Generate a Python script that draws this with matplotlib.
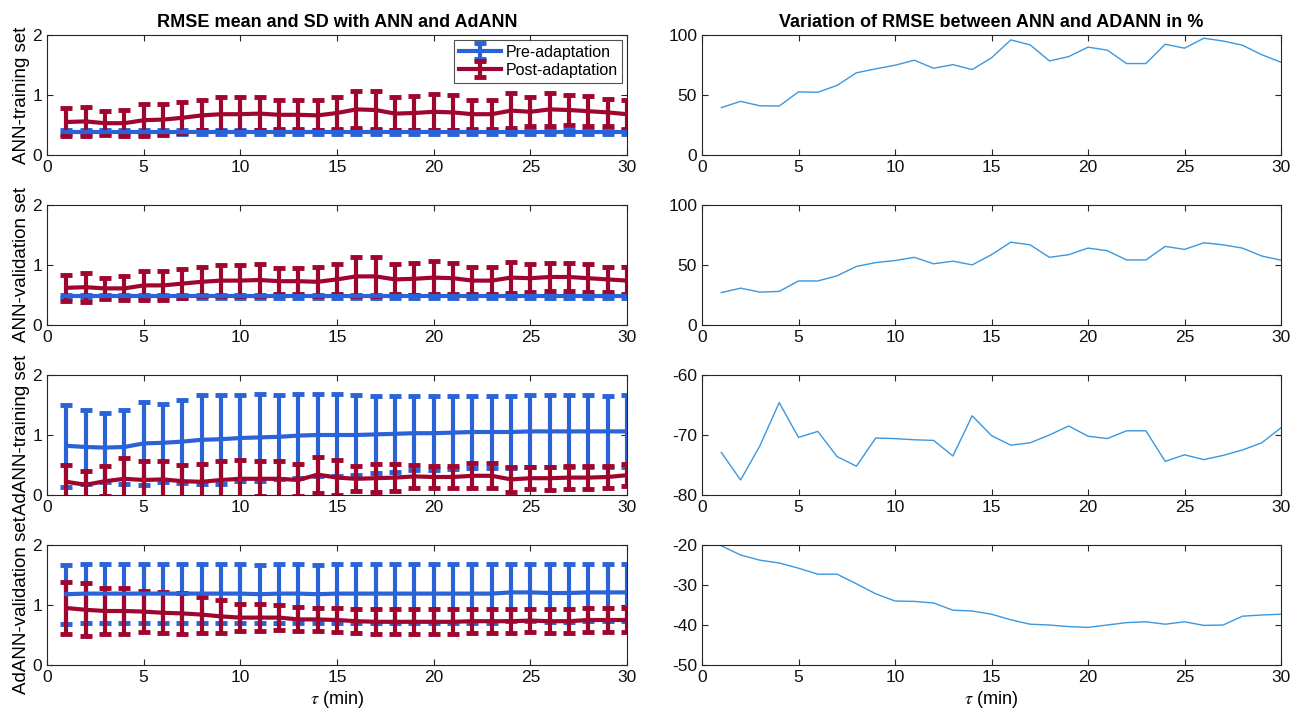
import matplotlib
matplotlib.use("Agg")
import matplotlib.pyplot as plt
import numpy as np

plt.rcParams["font.family"] = ["Liberation Sans", "DejaVu Sans"]
plt.rcParams["mathtext.fontset"] = "stix"
plt.rcParams["axes.unicode_minus"] = False

# ── Data ────────────────────────────────────────────────────────────────────
tau = list(range(1, 31))

# ANN-training set
pre_ann_train_mean = [0.38] * 30
pre_ann_train_sd = [0.03] * 30
post_ann_train_mean = [0.55, 0.56, 0.53, 0.53, 0.58, 0.59, 0.62, 0.66, 0.68, 0.68,
                       0.69, 0.67, 0.67, 0.66, 0.70, 0.76, 0.75, 0.69, 0.70, 0.72,
                       0.71, 0.68, 0.68, 0.74, 0.72, 0.76, 0.75, 0.73, 0.71, 0.68]
post_ann_train_sd = [0.23, 0.24, 0.20, 0.22, 0.27, 0.26, 0.26, 0.25, 0.28, 0.28,
                     0.28, 0.24, 0.24, 0.25, 0.27, 0.31, 0.31, 0.27, 0.28, 0.30,
                     0.29, 0.24, 0.24, 0.29, 0.24, 0.27, 0.25, 0.25, 0.23, 0.24]

# ANN-validation set
pre_ann_val_mean = [0.48] * 30
pre_ann_val_sd = [0.025] * 30
post_ann_val_mean = [0.62, 0.63, 0.61, 0.61, 0.66, 0.66, 0.69, 0.72, 0.74, 0.74,
                     0.75, 0.73, 0.73, 0.72, 0.76, 0.81, 0.81, 0.76, 0.77, 0.79,
                     0.78, 0.74, 0.74, 0.79, 0.78, 0.80, 0.80, 0.78, 0.76, 0.74]
post_ann_val_sd = [0.22, 0.24, 0.18, 0.20, 0.24, 0.24, 0.24, 0.24, 0.26, 0.26,
                   0.26, 0.22, 0.22, 0.24, 0.25, 0.32, 0.32, 0.25, 0.27, 0.28,
                   0.26, 0.23, 0.23, 0.26, 0.23, 0.24, 0.23, 0.23, 0.21, 0.23]

# AdANN-training set
pre_adann_train_mean = [0.82, 0.80, 0.79, 0.80, 0.86, 0.87, 0.89, 0.92, 0.93, 0.95,
                        0.96, 0.97, 0.99, 1.00, 1.00, 1.00, 1.01, 1.02, 1.03, 1.03,
                        1.04, 1.05, 1.05, 1.05, 1.06, 1.06, 1.06, 1.06, 1.06, 1.06]
pre_adann_train_sd = [0.68, 0.62, 0.58, 0.61, 0.69, 0.65, 0.69, 0.74, 0.74, 0.72,
                      0.73, 0.70, 0.70, 0.69, 0.68, 0.66, 0.64, 0.63, 0.62, 0.62,
                      0.61, 0.60, 0.60, 0.60, 0.60, 0.60, 0.60, 0.60, 0.59, 0.60]
post_adann_train_mean = [0.22, 0.17, 0.23, 0.27, 0.25, 0.26, 0.23, 0.22, 0.25, 0.27,
                         0.27, 0.27, 0.25, 0.34, 0.29, 0.27, 0.28, 0.29, 0.31, 0.30,
                         0.30, 0.32, 0.32, 0.26, 0.28, 0.28, 0.29, 0.29, 0.30, 0.33]
post_adann_train_sd = [0.28, 0.23, 0.25, 0.34, 0.32, 0.31, 0.27, 0.30, 0.32, 0.32,
                       0.29, 0.30, 0.27, 0.30, 0.29, 0.21, 0.23, 0.23, 0.19, 0.18,
                       0.18, 0.21, 0.21, 0.21, 0.18, 0.19, 0.19, 0.19, 0.18, 0.18]

# AdANN-validation set
pre_adann_val_mean = [1.18, 1.19, 1.19, 1.19, 1.19, 1.19, 1.19, 1.19, 1.19, 1.19,
                      1.18, 1.19, 1.19, 1.18, 1.19, 1.19, 1.19, 1.19, 1.19, 1.19,
                      1.19, 1.19, 1.19, 1.21, 1.21, 1.20, 1.20, 1.21, 1.21, 1.21]
pre_adann_val_sd = [0.49, 0.49, 0.49, 0.49, 0.49, 0.49, 0.49, 0.49, 0.49, 0.49,
                    0.48, 0.49, 0.49, 0.48, 0.49, 0.49, 0.49, 0.49, 0.49, 0.49,
                    0.49, 0.49, 0.49, 0.48, 0.48, 0.49, 0.49, 0.48, 0.48, 0.48]
post_adann_val_mean = [0.95, 0.92, 0.90, 0.90, 0.89, 0.87, 0.86, 0.84, 0.81, 0.79,
                       0.79, 0.79, 0.76, 0.76, 0.75, 0.73, 0.72, 0.72, 0.72, 0.72,
                       0.72, 0.73, 0.73, 0.73, 0.74, 0.73, 0.73, 0.75, 0.75, 0.75]
post_adann_val_sd = [0.43, 0.44, 0.39, 0.38, 0.34, 0.34, 0.34, 0.30, 0.28, 0.23,
                     0.23, 0.21, 0.20, 0.19, 0.20, 0.20, 0.21, 0.21, 0.21, 0.21,
                     0.21, 0.20, 0.20, 0.20, 0.19, 0.20, 0.20, 0.20, 0.20, 0.20]

# Variation of RMSE between ANN and AdANN (%)
var_ann_train = [39.5, 44.7, 41.0, 40.8, 52.6, 52.3, 58.0, 68.5, 71.8, 74.8,
                 79.0, 72.3, 75.3, 71.2, 81.0, 95.9, 91.8, 78.4, 82.0, 89.9,
                 87.4, 76.2, 76.2, 92.3, 89.0, 97.3, 95.0, 91.5, 83.6, 77.3]
var_ann_val = [27.0, 30.7, 27.4, 28.0, 36.7, 36.7, 41.0, 48.8, 52.0, 53.7,
               56.4, 51.0, 53.2, 50.1, 58.6, 69.0, 66.8, 56.4, 58.6, 64.1,
               61.9, 54.2, 54.2, 65.5, 63.0, 68.5, 66.8, 64.1, 57.5, 54.0]
var_adann_train = [-72.9, -77.5, -71.8, -64.6, -70.4, -69.4, -73.6, -75.2, -70.5, -70.6,
                   -70.8, -70.9, -73.5, -66.8, -70.1, -71.7, -71.3, -70.0, -68.5, -70.2,
                   -70.6, -69.3, -69.3, -74.4, -73.3, -74.1, -73.4, -72.5, -71.3, -68.8]
var_adann_val = [-20.2, -22.5, -23.8, -24.5, -25.8, -27.3, -27.3, -29.7, -32.2, -34.0,
                 -34.1, -34.5, -36.3, -36.5, -37.3, -38.7, -39.8, -40.0, -40.4, -40.6,
                 -40.0, -39.4, -39.2, -39.8, -39.2, -40.1, -40.0, -37.8, -37.5, -37.3]

row_labels = ["ANN-training set", "ANN-validation set",
              "AdANN-training set", "AdANN-validation set"]
left_series = [
    (pre_ann_train_mean, pre_ann_train_sd, post_ann_train_mean, post_ann_train_sd),
    (pre_ann_val_mean, pre_ann_val_sd, post_ann_val_mean, post_ann_val_sd),
    (pre_adann_train_mean, pre_adann_train_sd, post_adann_train_mean, post_adann_train_sd),
    (pre_adann_val_mean, pre_adann_val_sd, post_adann_val_mean, post_adann_val_sd),
]
right_series = [var_ann_train, var_ann_val, var_adann_train, var_adann_val]
right_ylims = [(0, 100), (0, 100), (-80, -60), (-50, -20)]
right_yticks = [[0, 50, 100], [0, 50, 100], [-80, -70, -60], [-50, -40, -30, -20]]

# ── Styling ─────────────────────────────────────────────────────────────────
BLUE = "#2a62d8"
RED = "#a0052e"
LINE = "#3a98e0"
SPINE = "#262626"

W, H = 1302, 721
fig = plt.figure(figsize=(W / 100, H / 100), dpi=100)

tops = [35, 205, 375, 545]
ax_h = 120


def style_axes(ax):
    for s in ax.spines.values():
        s.set_color(SPINE)
        s.set_linewidth(0.8)
    ax.tick_params(direction="in", top=True, right=True, length=4,
                   width=0.8, colors=SPINE, labelsize=12.5, labelcolor="#111111")
    ax.set_xlim(0, 30)
    ax.set_xticks([0, 5, 10, 15, 20, 25, 30])


for i in range(4):
    bottom = 1 - (tops[i] + ax_h) / H
    axl = fig.add_axes([47 / W, bottom, 580 / W, ax_h / H])
    axr = fig.add_axes([702 / W, bottom, 579 / W, ax_h / H])

    pm, ps, qm, qs = left_series[i]
    axl.errorbar(tau, pm, yerr=ps, color=BLUE, lw=3, elinewidth=3,
                 capsize=4.2, capthick=3.5, label="Pre-adaptation")
    axl.errorbar(tau, qm, yerr=qs, color=RED, lw=3, elinewidth=3,
                 capsize=4.2, capthick=3.5, label="Post-adaptation")
    style_axes(axl)
    axl.set_ylim(0, 2)
    axl.set_yticks([0, 1, 2])
    axl.set_ylabel(row_labels[i], fontsize=13.5, labelpad=2)

    axr.plot(tau, right_series[i], color=LINE, lw=1.0)
    style_axes(axr)
    axr.set_ylim(*right_ylims[i])
    axr.set_yticks(right_yticks[i])

    if i == 0:
        axl.set_title("RMSE mean and SD with ANN and AdANN",
                      fontsize=13, fontweight="bold", pad=6)
        axr.set_title("Variation of RMSE between ANN and ADANN in %",
                      fontsize=13, fontweight="bold", pad=6)
        leg = axl.legend(loc="upper right", fontsize=11.5, frameon=True,
                         fancybox=False, edgecolor=SPINE, borderpad=0.3,
                         handlelength=2.6, handletextpad=0.3, labelspacing=0.2,
                         borderaxespad=0.3)
        leg.get_frame().set_linewidth(0.8)
    if i == 3:
        axl.set_xlabel(r"$\tau$ (min)", fontsize=13, labelpad=3)
        axr.set_xlabel(r"$\tau$ (min)", fontsize=13, labelpad=3)

fig.savefig("out.png", dpi=100)
